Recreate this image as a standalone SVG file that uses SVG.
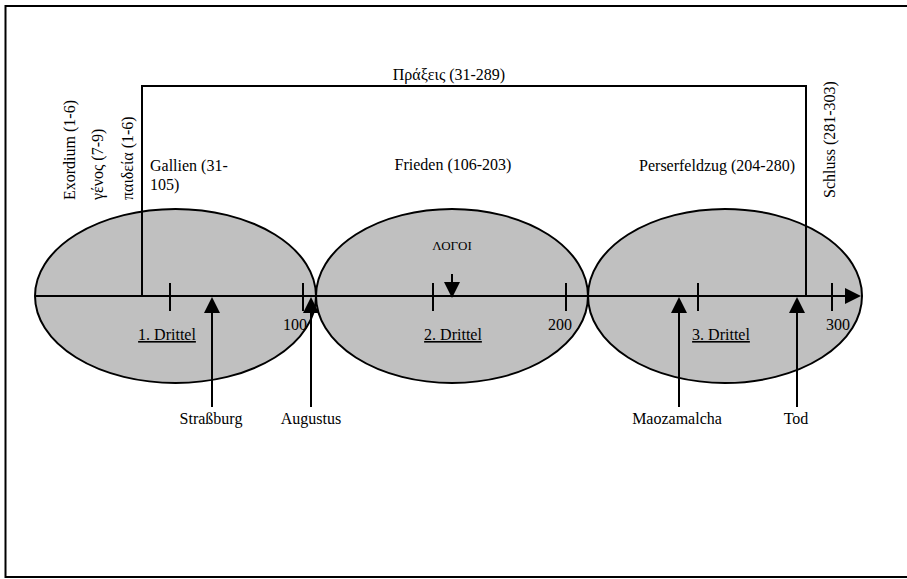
<svg xmlns="http://www.w3.org/2000/svg" width="907" height="579" viewBox="0 0 907 579">
<style>
text{font-family:'Liberation Serif',Tinos,'Times New Roman',Times,'DejaVu Serif',serif;font-size:16px;fill:#000}
.sm{font-size:13px}
.ln{stroke:#000;stroke-width:2;fill:none}
.el{fill:#C0C0C0;stroke:#000;stroke-width:2}
</style>
<defs>
<marker id="ahl" markerWidth="16" markerHeight="16" refX="14" refY="8" orient="auto" markerUnits="userSpaceOnUse" viewBox="0 0 16 16">
<path d="M0,0 L16,8 L0,16 z" fill="#000"/>
</marker>
</defs>
<rect x="5.5" y="6" width="1000" height="571" fill="#fff" stroke="#000" stroke-width="2"/>
<g id="ellipse1"><ellipse class="el" cx="175.5" cy="296" rx="140.5" ry="87"/><text x="167" y="340" text-anchor="middle" text-decoration="underline">1. Drittel</text></g>
<g id="ellipse2"><ellipse class="el" cx="452" cy="296" rx="136" ry="87"/><text x="453" y="340" text-anchor="middle" text-decoration="underline">2. Drittel</text><text class="sm" x="452" y="250" text-anchor="middle">ΛΟΓΟΙ</text></g>
<g id="ellipse3"><ellipse class="el" cx="725" cy="296" rx="137" ry="87"/><text x="721" y="340" text-anchor="middle" text-decoration="underline">3. Drittel</text></g>
<g id="connectors">
<line class="ln" x1="36" y1="296" x2="859" y2="296" marker-end="url(#ahl)"/>
<path class="ln" d="M170,283V311M303,283V311M433,283V311M566,283V311M698,283V311M832,283V311"/>
<path class="ln" d="M142,296V86H806V296"/>
<line class="ln" x1="212" y1="407" x2="212" y2="299" marker-end="url(#ahl)"/>
<line class="ln" x1="311" y1="407" x2="311" y2="299" marker-end="url(#ahl)"/>
<line class="ln" x1="679" y1="407" x2="679" y2="299" marker-end="url(#ahl)"/>
<line class="ln" x1="797" y1="407" x2="797" y2="299" marker-end="url(#ahl)"/>
<line class="ln" x1="452" y1="274" x2="452" y2="296" marker-end="url(#ahl)"/>
</g>
<g id="labels">
<text x="449" y="80" text-anchor="middle">Πράξεις (31-289)</text>
<text x="453" y="170" text-anchor="middle">Frieden (106-203)</text>
<text x="150" y="171">Gallien (31-</text>
<text x="150" y="190">105)</text>
<text x="795" y="171" text-anchor="end">Perserfeldzug (204-280)</text>
<text transform="translate(835,198) rotate(-90)">Schluss (281-303)</text>
<text transform="translate(75,200) rotate(-90)">Exordium (1-6)</text>
<text transform="translate(103,200) rotate(-90)">γένος (7-9)</text>
<text transform="translate(133,200) rotate(-90)">παιδεία (1-6)</text>
<text x="283" y="330">100</text>
<text x="548" y="330">200</text>
<text x="826" y="330">300</text>
<text x="211" y="424" text-anchor="middle">Straßburg</text>
<text x="311" y="424" text-anchor="middle">Augustus</text>
<text x="677" y="424" text-anchor="middle">Maozamalcha</text>
<text x="796" y="424" text-anchor="middle">Tod</text>
</g>
</svg>
